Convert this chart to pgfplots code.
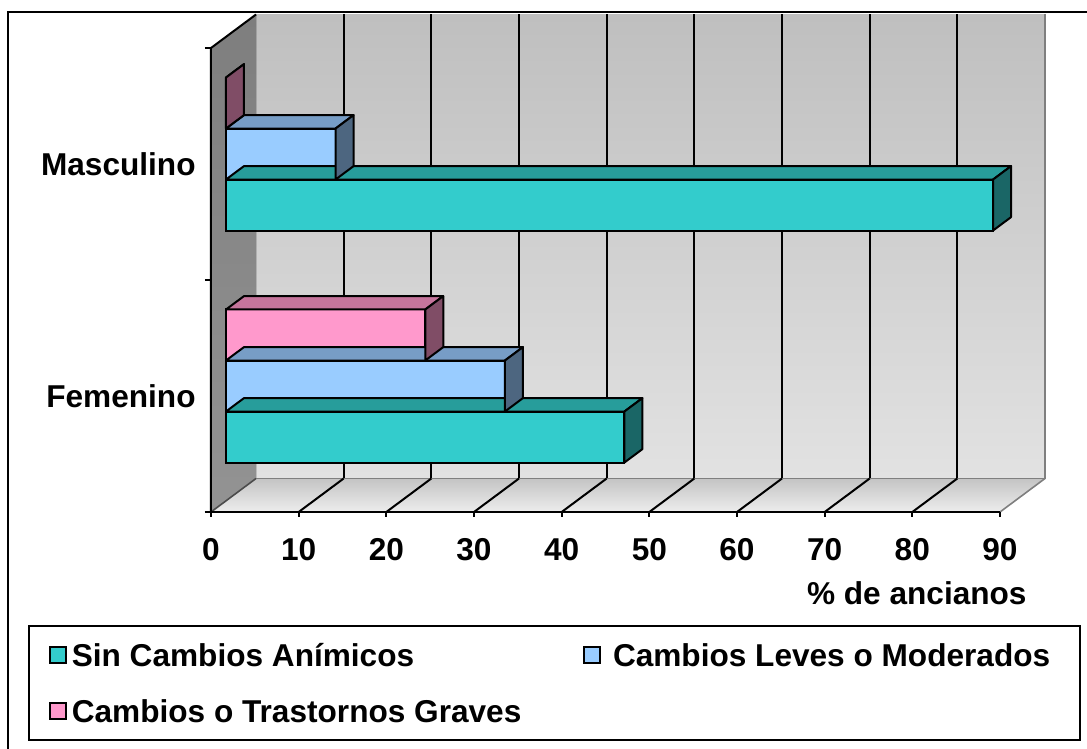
\documentclass[border=0pt]{standalone}
\usepackage{pgfplots}
\pgfplotsset{compat=1.18}
\usepackage{pgfplotstable}
\usepackage{fontspec}
\setmainfont{Liberation Sans}

\definecolor{cSin}{HTML}{33CCCC}
\definecolor{tSin}{HTML}{279D9B}
\definecolor{sSin}{HTML}{1A6666}
\definecolor{cLev}{HTML}{99CCFF}
\definecolor{tLev}{HTML}{779DC6}
\definecolor{sLev}{HTML}{4D6680}
\definecolor{cGra}{HTML}{FF99CC}
\definecolor{tGra}{HTML}{C6759C}
\definecolor{sGra}{HTML}{804D66}
\definecolor{wallTop}{HTML}{BFBFBF}
\definecolor{wallBot}{HTML}{E2E2E2}
\definecolor{lwTop}{HTML}{7E7E7E}
\definecolor{lwBot}{HTML}{939393}
\definecolor{flTop}{HTML}{C4C4C4}
\definecolor{flBot}{HTML}{EDEDED}
\definecolor{edgeGray}{HTML}{7F7F7F}

\pgfdeclareplotmark{nothing}{}
\newcommand\lf{\fontsize{15.8}{18.9}\selectfont\bfseries}

\pgfplotstableread{
c sin leves graves
0 45.45 31.82 22.73
1 87.5 12.5 0
}\datatable

\pgfplotsset{
  front/.style n args={2}{xbar, forget plot, bar width=25.5pt, bar shift=#2,
    fill=#1, draw=black, line width=1pt},
  depth/.style n args={4}{forget plot, scatter, only marks, mark=nothing,
    point meta=x,
    visualization depends on={\thisrow{#4} \as \val},
    scatter/@pre marker code/.code={%
      \pgfmathsetlengthmacro\barL{\val*4.383333pt}%
      \filldraw[fill=#1, draw=black, line width=1pt, line join=round]
        (-\barL, {#3+12.75pt}) -- (0pt, {#3+12.75pt}) -- (9pt, {#3+19.45pt})
        -- ({9pt-\barL}, {#3+19.45pt}) -- cycle;
      \filldraw[fill=#2, draw=black, line width=1pt, line join=round]
        (0pt, {#3-12.75pt}) -- (0pt, {#3+12.75pt}) -- (9pt, {#3+19.45pt})
        -- (9pt, {#3-6.05pt}) -- cycle;
    },
    scatter/@post marker code/.code={}},
}

\begin{document}
\begin{tikzpicture}
\useasboundingbox (-113pt,-123.5pt) rectangle (430.5pt,251pt);
% outer frame
\draw[line width=1pt] (-109pt,-130pt) -- (-109pt,244.75pt) -- (440pt,244.75pt);
% back wall
\fill[top color=wallTop, bottom color=wallBot] (15pt,11.75pt) rectangle (409.5pt,243.75pt);
% left wall
\fill[top color=lwTop, bottom color=lwBot] (-7.5pt,-5pt) -- (-7.5pt,227pt) -- (15pt,243.75pt) -- (15pt,11.75pt) -- cycle;
% floor
\fill[top color=flTop, bottom color=flBot] (-7.5pt,-5pt) -- (387pt,-5pt) -- (409.5pt,11.75pt) -- (15pt,11.75pt) -- cycle;
% gray edges
\draw[edgeGray, line width=0.8pt] (15pt,11.75pt) -- (409.5pt,11.75pt) -- (409.5pt,243.75pt);
\draw[edgeGray, line width=0.8pt] (387pt,-5pt) -- (409.5pt,11.75pt);
\draw[black!70, line width=0.8pt] (-7.5pt,-5pt) -- (15pt,11.75pt);
% grid lines on back wall and floor
\foreach \k in {1,...,8} {
  \draw[line width=1pt] ({15pt+43.83333pt*\k},11.75pt) -- ({15pt+43.83333pt*\k},243.75pt);
  \draw[line width=1pt] ({-7.5pt+43.83333pt*\k},-5pt) -- ({15pt+43.83333pt*\k},11.75pt);
}
% front edges and ticks
\draw[line width=1pt] (-10.5pt,-5pt) -- (387pt,-5pt);
\draw[line width=1pt] (-7.5pt,-5pt) -- (-7.5pt,227pt) -- (15pt,243.75pt);
\foreach \k in {0,...,9} {
  \draw[line width=1pt] ({-7.5pt+43.83333pt*\k},-5pt) -- ++(0,-2.75pt);
}
\foreach \y in {-5,111,227} {
  \draw[line width=1pt] (-10.5pt,\y pt) -- (-7.5pt,\y pt);
}

\begin{axis}[
  at={(0,0)}, anchor=south west,
  scale only axis, width=394.5pt, height=232pt,
  xmin=0, xmax=90, ymin=-0.5, ymax=1.5,
  clip=false,
  axis line style={draw=none}, tick style={draw=none},
  xtick={0,10,...,90}, ytick={0,1}, yticklabels={Femenino,Masculino},
  /pgf/number format/assume math mode=true,
  xticklabel style={font=\lf, anchor=north, inner sep=0pt, xshift=-7.5pt, yshift=-18pt},
  yticklabel style={font=\lf, anchor=east, inner sep=0pt, xshift=-15pt, yshift=-5pt},
  xlabel={\% de ancianos},
  xlabel style={font=\lf, at={(rel axis cs:1.0152,0)}, anchor=base east, inner sep=0pt, yshift=-51pt},
  legend columns=2,
  legend style={at={(-0.25095,-0.26509)}, anchor=north west, draw=black, line width=1pt,
    inner xsep=10pt, inner ysep=9pt, column sep=0pt, row sep=16.5pt, font=\lf,
    nodes={inner sep=0pt, text height=11.3pt, text depth=0pt, anchor=west},
    cells={anchor=west}},
]
\addplot[front={cSin}{-25.5pt}] table[x=sin, y=c] {\datatable};
\addplot[depth={tSin}{sSin}{-25.5pt}{sin}] table[x=sin, y=c] {\datatable};
\addplot[front={cLev}{0pt}] table[x=leves, y=c] {\datatable};
\addplot[depth={tLev}{sLev}{0pt}{leves}] table[x=leves, y=c] {\datatable};
\addplot[front={cGra}{25.5pt}] table[x=graves, y=c] {\datatable};
\addplot[depth={tGra}{sGra}{25.5pt}{graves}] table[x=graves, y=c] {\datatable};

\addlegendimage{legend image code/.code={\draw[fill=cSin, draw=black, line width=0.9pt] (0pt,-4pt) rectangle (8pt,4pt);}}
\addlegendentry{\makebox[258.2pt][l]{\hspace*{2.5pt}Sin Cambios Anímicos}}
\addlegendimage{legend image code/.code={\draw[fill=cLev, draw=black, line width=0.9pt] (0pt,-4pt) rectangle (8pt,4pt);}}
\addlegendentry{\makebox[229.6pt][l]{\hspace*{6pt}Cambios Leves o Moderados}}
\addlegendimage{legend image code/.code={\draw[fill=cGra, draw=black, line width=0.9pt] (0pt,-4pt) rectangle (8pt,4pt);}}
\addlegendentry{\makebox[258.2pt][l]{\hspace*{2.5pt}Cambios o Trastornos Graves}}
\end{axis}
\end{tikzpicture}
\end{document}
